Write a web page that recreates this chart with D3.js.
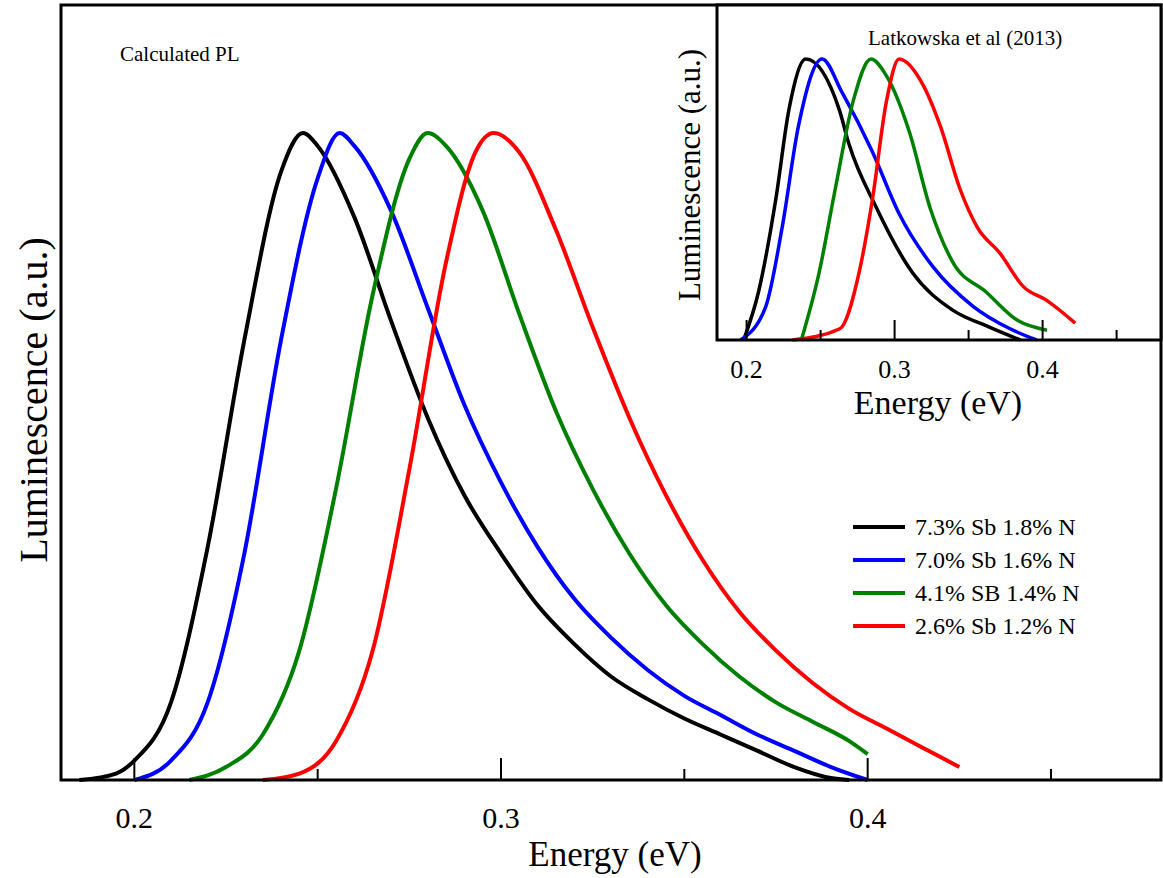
<!DOCTYPE html>
<html><head><meta charset="utf-8">
<script src="https://cdn.jsdelivr.net/npm/d3@7"></script>
<style>body{margin:0;background:#fff}text{font-family:"Liberation Serif","Times New Roman",serif;fill:#000}</style>
</head><body>
<svg id="chart" width="1163" height="878"></svg>
<script>
// calculated PL, [energy, normalised intensity]
var calcBlack = [[0.185,0],[0.195,0.01],[0.2,0.03],[0.21,0.12],[0.22,0.36],[0.23,0.68],[0.24,0.94],[0.246,1.0],[0.25,0.98],[0.26,0.87],[0.27,0.71],[0.28,0.56],[0.29,0.44],[0.3,0.35],[0.31,0.27],[0.32,0.21],[0.33,0.16],[0.34,0.125],[0.35,0.095],[0.36,0.07],[0.37,0.045],[0.38,0.02],[0.39,0.003],[0.395,0]];
var calcBlue = [[0.2,0],[0.21,0.03],[0.22,0.12],[0.23,0.35],[0.24,0.68],[0.25,0.93],[0.256,1.0],[0.26,0.98],[0.27,0.88],[0.28,0.73],[0.29,0.58],[0.3,0.46],[0.31,0.36],[0.32,0.28],[0.33,0.22],[0.34,0.17],[0.35,0.13],[0.36,0.1],[0.37,0.07],[0.38,0.045],[0.39,0.02],[0.4,0]];
var calcGreen = [[0.215,0],[0.225,0.02],[0.235,0.07],[0.245,0.2],[0.255,0.45],[0.265,0.75],[0.275,0.96],[0.28,1.0],[0.285,0.98],[0.295,0.88],[0.305,0.72],[0.315,0.57],[0.325,0.45],[0.335,0.35],[0.345,0.27],[0.355,0.21],[0.365,0.16],[0.375,0.12],[0.385,0.09],[0.395,0.06],[0.4,0.04]];
var calcRed = [[0.235,0],[0.245,0.01],[0.255,0.06],[0.265,0.2],[0.275,0.48],[0.285,0.8],[0.293,0.97],[0.298,1.0],[0.305,0.97],[0.315,0.85],[0.325,0.7],[0.335,0.56],[0.345,0.44],[0.355,0.34],[0.365,0.26],[0.375,0.2],[0.385,0.15],[0.395,0.11],[0.405,0.08],[0.415,0.05],[0.425,0.02]];

// measured (inset)
var expBlack = [[0.198,0],[0.208,0.17],[0.2197,0.5],[0.2286,0.82],[0.24,1.0],[0.2626,0.82],[0.269,0.7],[0.2878,0.47],[0.312,0.24],[0.339,0.107],[0.364,0.046],[0.385,0]];
var expBlue = [[0.196,0],[0.213,0.12],[0.224,0.4],[0.235,0.76],[0.251,1.0],[0.2646,0.88],[0.285,0.67],[0.303,0.45],[0.326,0.26],[0.353,0.12],[0.378,0.04],[0.396,0]];
var expGreen = [[0.237,0],[0.249,0.24],[0.26,0.54],[0.272,0.85],[0.284,1.0],[0.2945,0.94],[0.31,0.74],[0.324,0.47],[0.339,0.28],[0.362,0.17],[0.383,0.07],[0.403,0.035]];
var expRed = [[0.231,0],[0.263,0.04],[0.276,0.24],[0.285,0.5],[0.2945,0.85],[0.303,1.0],[0.319,0.91],[0.331,0.76],[0.344,0.54],[0.356,0.4],[0.371,0.31],[0.387,0.19],[0.403,0.14],[0.422,0.06]];

var legendLabels = ["7.3% Sb 1.8% N","7.0% Sb 1.6% N","4.1% SB 1.4% N","2.6% Sb 1.2% N"];
var colors = ["#000000","#0000ff","#008000","#ff0000"];
var xDomain = [0.18, 0.48];
var majorTicks = [0.2, 0.3, 0.4];
var minorTicks = [0.25, 0.35, 0.45];

var svg = d3.select("#chart");

function panel(box, series, tickH, fontTick, tickY, lw) {
    var x = d3.scaleLinear().domain(xDomain).range([box.l, box.r]);
    var y = d3.scaleLinear().domain([0, 1]).range([box.b, box.peak]);
    var g = svg.append("g");
    g.append("rect").attr("x", box.l).attr("y", box.t)
        .attr("width", box.r - box.l).attr("height", box.b - box.t)
        .attr("fill", "#fff");
    var line = d3.line().x(d => x(d[0])).y(d => y(d[1])).curve(d3.curveMonotoneX);
    series.forEach(function (s, i) {
        g.append("path").attr("d", line(s)).attr("fill", "none")
            .attr("stroke", colors[i]).attr("stroke-width", lw);
    });
    majorTicks.forEach(function (t) {
        g.append("line").attr("x1", x(t)).attr("x2", x(t)).attr("y1", box.b).attr("y2", box.b - tickH)
            .attr("stroke", "#000").attr("stroke-width", 2);
        g.append("text").attr("x", x(t)).attr("y", tickY).attr("text-anchor", "middle")
            .style("font-size", fontTick + "px").text(t.toFixed(1));
    });
    minorTicks.forEach(function (t) {
        g.append("line").attr("x1", x(t)).attr("x2", x(t)).attr("y1", box.b).attr("y2", box.b - tickH / 2)
            .attr("stroke", "#000").attr("stroke-width", 2);
    });
    g.append("rect").attr("x", box.l).attr("y", box.t)
        .attr("width", box.r - box.l).attr("height", box.b - box.t)
        .attr("fill", "none").attr("stroke", "#000").attr("stroke-width", 3);
    return g;
}

var main = panel({l: 61, r: 1161, t: 5, b: 780, peak: 133},
    [calcBlack, calcBlue, calcGreen, calcRed], 22, 30, 828, 4);
main.append("text").attr("x", 120).attr("y", 61).style("font-size", "21px").text("Calculated PL");
main.append("text").attr("x", 615).attr("y", 866).attr("text-anchor", "middle").style("font-size", "35px").text("Energy (eV)");
main.append("text").attr("transform", "translate(47,400) rotate(-90)").attr("text-anchor", "middle")
    .style("font-size", "40px").text("Luminescence (a.u.)");

var leg = main.append("g");
legendLabels.forEach(function (l, i) {
    var yy = 527 + i * 33;
    leg.append("line").attr("x1", 853).attr("x2", 905).attr("y1", yy).attr("y2", yy)
        .attr("stroke", colors[i]).attr("stroke-width", 4);
    leg.append("text").attr("x", 915).attr("y", yy + 8).style("font-size", "24px").text(l);
});

var inset = panel({l: 717, r: 1161, t: 5, b: 340, peak: 59},
    [expBlack, expBlue, expGreen, expRed], 20, 26, 378, 3.5);
inset.append("text").attr("x", 868).attr("y", 45).style("font-size", "21px").text("Latkowska et al (2013)");
inset.append("text").attr("x", 938).attr("y", 414).attr("text-anchor", "middle").style("font-size", "34px").text("Energy (eV)");
inset.append("text").attr("transform", "translate(700,175) rotate(-90)").attr("text-anchor", "middle")
    .style("font-size", "31px").text("Luminescence (a.u.)");
</script>
</body></html>
